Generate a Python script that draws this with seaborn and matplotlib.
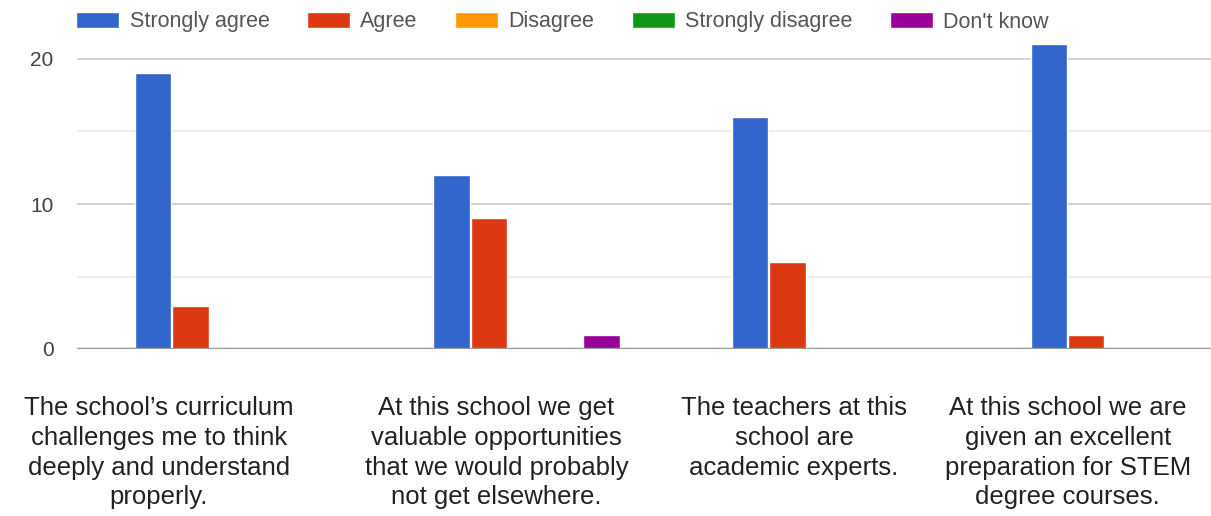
import matplotlib
matplotlib.use("Agg")
import matplotlib.pyplot as plt
import matplotlib.transforms as mtransforms
import seaborn as sns
import pandas as pd

# survey answers per statement
statements = [
    "The school\u2019s curriculum\nchallenges me to think\ndeeply and understand\nproperly.",
    "At this school we get\nvaluable opportunities\nthat we would probably\nnot get elsewhere.",
    "The teachers at this\nschool are\nacademic experts.",
    "At this school we are\ngiven an excellent\npreparation for STEM\ndegree courses.",
]
answers = ["Strongly agree", "Agree", "Disagree", "Strongly disagree", "Don't know"]
strongly_agree = [19, 12, 16, 21]
agree = [3, 9, 6, 1]
disagree = [0, 0, 0, 0]
strongly_disagree = [0, 0, 0, 0]
dont_know = [0, 1, 0, 0]
colors = ["#3366cc", "#dc3912", "#ff9900", "#109618", "#990099"]

series = [strongly_agree, agree, disagree, strongly_disagree, dont_know]
rows = []
for ans, vals in zip(answers, series):
    for st, v in zip(statements, vals):
        rows.append({"statement": st, "answer": ans, "count": v})
df = pd.DataFrame(rows)

sns.set_style("white")
plt.rcParams["font.family"] = ["Liberation Sans", "DejaVu Sans"]

fig = plt.figure(figsize=(12.11, 5.16), dpi=100)
W, H = 1211, 516
ax = fig.add_axes([77 / W, (H - 349) / H, (1273 - 77) / W, (349 - 44.5) / H])

sns.barplot(data=df, x="statement", y="count", hue="answer", order=statements,
            hue_order=answers, palette=colors, width=0.6275, gap=0.03,
            saturation=1, ax=ax, legend=True)

ax.set_xlim(-0.505, 3.5)
ax.set_ylim(0, 21)
ax.set_yticks([0, 10, 20])
ax.set_yticks([5, 15], minor=True)
ax.grid(axis="y", which="major", color="#cccccc", lw=1.2)
ax.grid(axis="y", which="minor", color="#ebebeb", lw=1.2)
ax.set_axisbelow(True)
ax.axhline(0, color="#999999", lw=2.5, zorder=3)
for s in ax.spines.values():
    s.set_visible(False)
ax.set_xlabel("")
ax.set_ylabel("")
ax.tick_params(axis="both", which="both", length=0)
ax.tick_params(axis="y", pad=17, labelsize=15, labelcolor="#444444")
ax.tick_params(axis="x", pad=34, labelsize=18.5, labelcolor="#222222")

# shift the statement labels like the original layout
shifts = [-69, -30, -31, -56]
for lab, dx in zip(ax.get_xticklabels(), shifts):
    lab.set_linespacing(1.3)
    lab.set_transform(lab.get_transform() +
                      mtransforms.ScaledTranslation(dx / 100, 0, fig.dpi_scale_trans))

handles, labels = ax.get_legend_handles_labels()
ax.legend(handles, labels, loc="center left", bbox_to_anchor=(57 / W, (H - 22) / H),
          bbox_transform=fig.transFigure, ncol=5, frameon=False, fontsize=15.5,
          handlelength=2.0, handleheight=0.75, handletextpad=0.47, columnspacing=1.75,
          labelcolor="#555555")

fig.savefig("out.png", dpi=100)
